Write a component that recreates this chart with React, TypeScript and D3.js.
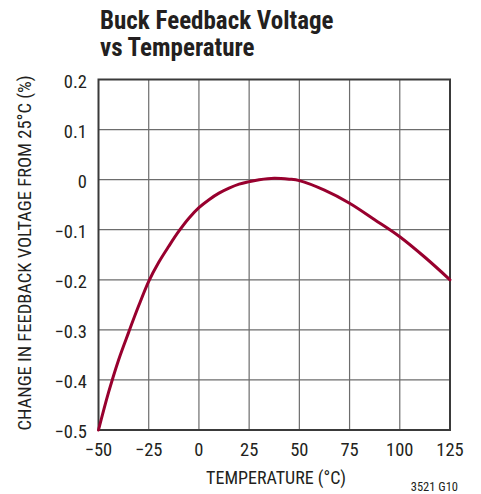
import React from 'react';
import * as d3 from 'd3';

// temperature (°C) and change in feedback voltage (%)
const temps = [-50, -45, -40, -35, -30, -25, -20, -15, -10, -5, 0, 5, 10, 15, 20, 25, 30, 37.5, 45, 50, 62.5, 75, 87.5, 100, 112.5, 125];
const change = [-0.5, -0.425, -0.36, -0.305, -0.252, -0.203, -0.165, -0.133, -0.103, -0.077, -0.056, -0.04, -0.027, -0.017, -0.009, -0.004, 0, 0.003, 0.001, -0.002, -0.021, -0.047, -0.08, -0.114, -0.155, -0.2];
const xTicks = [-50, -25, 0, 25, 50, 75, 100, 125];
const yTicks = [0.2, 0.1, 0, -0.1, -0.2, -0.3, -0.4, -0.5];

const W = 481, H = 494;
const left = 98.5, right = 450, top = 79.5, bottom = 430;
const FONT = '"Liberation Sans Narrow", "Roboto Condensed", "Liberation Sans", Arial, sans-serif';

const fmt = (v: number) => (v < 0 ? '\u2212' + String(Math.abs(v)) : String(v));

export default function App() {
  const x = d3.scaleLinear().domain([-50, 125]).range([left, right]);
  const y = d3.scaleLinear().domain([-0.5, 0.2]).range([bottom, top]);
  const pts = temps.map((t, i) => [t, change[i]] as [number, number]);
  const line = d3.line<[number, number]>()
    .x(d => x(d[0]))
    .y(d => y(d[1]))
    .curve(d3.curveCatmullRom.alpha(0.5));

  return (
    <svg width={W} height={H} style={{ position: 'absolute', left: 0, top: 0 }} fontFamily={FONT}>
      <rect width={W} height={H} fill="#fff" />
      <text x={100} y={29} fontSize={25} fontWeight="bold" fill="#231f20">Buck Feedback Voltage</text>
      <text x={100} y={56} fontSize={25} fontWeight="bold" fill="#231f20">vs Temperature</text>

      {xTicks.slice(1, -1).map(t => (
        <line key={'gx' + t} x1={x(t)} x2={x(t)} y1={top} y2={bottom} stroke="#6d6d6d" strokeWidth={1.2} />
      ))}
      {yTicks.slice(1, -1).map(v => (
        <line key={'gy' + v} x1={left} x2={right} y1={y(v)} y2={y(v)} stroke="#6d6d6d" strokeWidth={1.2} />
      ))}
      <rect x={left} y={top} width={right - left} height={bottom - top} fill="none" stroke="#3a3a3a" strokeWidth={2} />

      <path d={line(pts) || ''} fill="none" stroke="#98002e" strokeWidth={3} strokeLinecap="round" />

      {yTicks.map(v => (
        <text key={'yl' + v} x={87} y={y(v) + 8} fontSize={18.5} textAnchor="end" fill="#231f20">{fmt(v)}</text>
      ))}
      {xTicks.map(t => (
        <text key={'xl' + t} x={x(t)} y={456} fontSize={18.5} textAnchor="middle" fill="#231f20">{fmt(t)}</text>
      ))}
      <text x={276} y={484} fontSize={18} textAnchor="middle" fill="#231f20">TEMPERATURE (°C)</text>
      <text transform="translate(31,253) rotate(-90)" fontSize={18.5} textAnchor="middle" fill="#231f20">
        CHANGE IN FEEDBACK VOLTAGE FROM 25°C (%)
      </text>
      <text x={458} y={491} fontSize={12.5} textAnchor="end" fill="#231f20">3521 G10</text>
    </svg>
  );
}
